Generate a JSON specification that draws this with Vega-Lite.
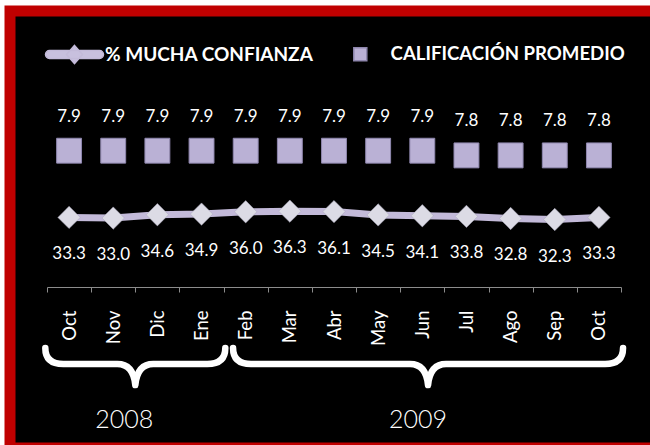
{
  "$schema": "https://vega.github.io/schema/vega-lite/v6.json",
  "width": 650,
  "height": 437,
  "autosize": {"type": "none"},
  "padding": {"left": 10, "top": 11, "right": -10, "bottom": -3},
  "background": "white",
  "view": {"fill": "black", "stroke": "#c00000", "strokeWidth": 11},
  "config": {"font": "Lato", "text": {"font": "Lato"}, "axis": {"titleOpacity": 0, "titleColor": "transparent", "titleFontSize": 0}},
  "datasets": {
    "meses": [
      {"mes": "Oct-2008", "confianza": 33.3, "calificacion": 7.9},
      {"mes": "Nov-2008", "confianza": 33.0, "calificacion": 7.9},
      {"mes": "Dic-2008", "confianza": 34.6, "calificacion": 7.9},
      {"mes": "Ene-2008", "confianza": 34.9, "calificacion": 7.9},
      {"mes": "Feb-2009", "confianza": 36.0, "calificacion": 7.9},
      {"mes": "Mar-2009", "confianza": 36.3, "calificacion": 7.9},
      {"mes": "Abr-2009", "confianza": 36.1, "calificacion": 7.9},
      {"mes": "May-2009", "confianza": 34.5, "calificacion": 7.9},
      {"mes": "Jun-2009", "confianza": 34.1, "calificacion": 7.9},
      {"mes": "Jul-2009", "confianza": 33.8, "calificacion": 7.8},
      {"mes": "Ago-2009", "confianza": 32.8, "calificacion": 7.8},
      {"mes": "Sep-2009", "confianza": 32.3, "calificacion": 7.8},
      {"mes": "Oct-2009", "confianza": 33.3, "calificacion": 7.8}
    ],
    "anios": [
      {"anio": "2008", "mes": "Nov-2008"},
      {"anio": "2009", "mes": "Jun-2009"}
    ]
  },
  "data": {"name": "meses"},
  "layer": [
    {
      "layer": [
        {
          "mark": {"type": "line", "strokeWidth": 7, "strokeCap": "round"},
          "encoding": {
            "x": {
              "field": "mes", "type": "ordinal", "sort": null, "title": null,
              "scale": {"type": "band", "domain": ["Oct-2008","Nov-2008","Dic-2008","Ene-2008","Feb-2009","Mar-2009","Abr-2009","May-2009","Jun-2009","Jul-2009","Ago-2009","Sep-2009","Oct-2009"], "range": [37, 611], "paddingInner": 0, "paddingOuter": 0},
              "axis": {"orient": "bottom", "offset": -161, "title": null, "labelAngle": 270, "labelExpr": "isString(datum.value) ? split(datum.value, '-')[0] : ''", "labelColor": "white", "labelFont": "Lato", "labelFontSize": 18.5, "labelPadding": 18, "tickBand": "extent", "tickSize": 5, "tickColor": "#8c8c8c", "domainColor": "#8c8c8c", "grid": false, "labelOverlap": false, "labelBound": false, "labelFlush": false}
            },
            "y": {
              "field": "confianza", "type": "quantitative", "title": null,
              "scale": {"domain": [0, 90], "range": [276, 88], "nice": false, "zero": false},
              "axis": {"orient": "left", "offset": -21, "values": [0,10,20,30,40,50,60,70,80,90], "labels": false, "domain": false, "grid": false, "tickSize": 5, "tickColor": "#7f7f7f", "title": null}
            },
            "color": {
              "datum": "% Mucha Confianza",
              "scale": {"range": ["#c3bad9"]},
              "legend": {"title": null, "orient": "none", "legendX": 55, "legendY": 34, "padding": 0, "symbolType": "M -25 -4 L 25 -4 A 4 4 0 0 1 25 4 L -25 4 A 4 4 0 0 1 -25 -4 Z M 0 -9 L 8 0 L 0 9 L -8 0 Z", "symbolSize": 4, "symbolOpacity": 1, "labelColor": "white", "labelFont": "Lato", "labelFontSize": 19, "labelFontWeight": "bold", "labelOffset": 21, "labelLimit": 400, "labelExpr": "upper(datum.label)",
                "encode": {"symbols": {"update": {"fill": {"value": "#c8c0de"}, "stroke": {"value": "transparent"}, "opacity": {"value": 1}}}}}
            }
          }
        },
        {
          "mark": {"type": "point", "shape": "diamond", "filled": true, "size": 500, "color": "#dcdbe5", "opacity": 1, "stroke": "#a9a6ba", "strokeWidth": 0.5},
          "encoding": {
            "x": {"field": "mes", "type": "ordinal", "sort": null, "title": null},
            "y": {"field": "confianza", "type": "quantitative", "title": null, "axis": null}
          }
        },
        {
          "mark": {"type": "text", "color": "white", "fontSize": 17, "dy": 37, "baseline": "middle"},
          "encoding": {
            "x": {"field": "mes", "type": "ordinal", "sort": null, "title": null},
            "y": {"field": "confianza", "type": "quantitative", "title": null, "axis": null},
            "text": {"field": "confianza", "type": "quantitative", "format": ".1f"}
          }
        },
        {
          "data": {"name": "anios"},
          "transform": [{"filter": "datum.anio == '2008'"}],
          "mark": {"type": "point", "shape": "M -90 -16 Q -90 0 -72 0 L -18 0 Q -2 0 0 21 Q 2 0 18 0 L 72 0 Q 90 0 90 -16", "size": 4, "filled": false, "color": "white", "strokeWidth": 6.5, "strokeCap": "round", "strokeJoin": "round", "opacity": 1},
          "encoding": {
            "x": {"field": "mes", "type": "ordinal", "bandPosition": 1, "title": null},
            "y": {"datum": -36.9, "type": "quantitative", "title": null, "axis": null}
          }
        },
        {
          "data": {"name": "anios"},
          "transform": [{"filter": "datum.anio == '2009'"}],
          "mark": {"type": "point", "shape": "M -195 -16 Q -195 0 -177 0 L -18 0 Q -2 0 0 21 Q 2 0 18 0 L 177 0 Q 195 0 195 -16", "size": 4, "filled": false, "color": "white", "strokeWidth": 6.5, "strokeCap": "round", "strokeJoin": "round", "opacity": 1},
          "encoding": {
            "x": {"field": "mes", "type": "ordinal", "bandPosition": 0.63, "title": null},
            "y": {"datum": -36.9, "type": "quantitative", "title": null, "axis": null}
          }
        },
        {
          "data": {"name": "anios"},
          "transform": [{"filter": "datum.anio == '2008'"}],
          "mark": {"type": "text", "color": "white", "fontSize": 25, "fontWeight": 300, "baseline": "middle"},
          "encoding": {
            "x": {"field": "mes", "type": "ordinal", "bandPosition": 0.75, "title": null},
            "y": {"datum": -63.7, "type": "quantitative", "title": null, "axis": null},
            "text": {"field": "anio"}
          }
        },
        {
          "data": {"name": "anios"},
          "transform": [{"filter": "datum.anio == '2009'"}],
          "mark": {"type": "text", "color": "white", "fontSize": 25, "fontWeight": 300, "baseline": "middle"},
          "encoding": {
            "x": {"field": "mes", "type": "ordinal", "bandPosition": 0.4, "title": null},
            "y": {"datum": -63.7, "type": "quantitative", "title": null, "axis": null},
            "text": {"field": "anio"}
          }
        }
      ]
    },
    {
      "layer": [
        {
          "mark": {"type": "square", "size": 620, "opacity": 1, "stroke": "#8f87ae", "strokeWidth": 1},
          "encoding": {
            "x": {"field": "mes", "type": "ordinal", "sort": null, "title": null},
            "y": {
              "field": "calificacion", "type": "quantitative", "title": null,
              "scale": {"domain": [5, 9], "range": [276, 88], "nice": false, "zero": false},
              "axis": {"orient": "right", "offset": -24, "values": [5,5.5,6,6.5,7,7.5,8,8.5,9], "labels": false, "domain": false, "grid": false, "tickSize": 4, "tickColor": "#6a6a6a", "title": null}
            },
            "color": {
              "datum": "Calificación Promedio",
              "scale": {"range": ["#bab1d5"]},
              "legend": {"title": null, "orient": "none", "legendX": 341, "legendY": 34, "padding": 0, "symbolType": "square", "symbolSize": 169, "symbolOpacity": 1, "labelColor": "white", "labelFont": "Lato", "labelFontSize": 18.6, "labelFontWeight": "bold", "labelOffset": 21, "labelLimit": 400, "labelExpr": "upper(datum.label)"}
            }
          }
        },
        {
          "mark": {"type": "text", "color": "white", "fontSize": 17, "dy": -34, "baseline": "middle"},
          "encoding": {
            "x": {"field": "mes", "type": "ordinal", "sort": null, "title": null},
            "y": {"field": "calificacion", "type": "quantitative", "title": null, "axis": null},
            "text": {"field": "calificacion", "type": "quantitative", "format": ".1f"}
          }
        }
      ]
    }
  ],
  "resolve": {"scale": {"y": "independent", "color": "independent"}}
}
